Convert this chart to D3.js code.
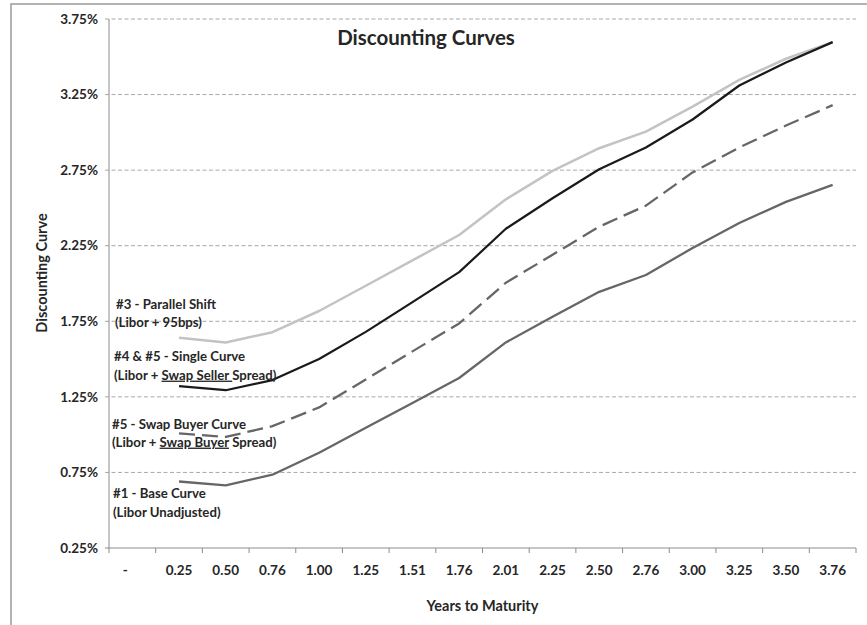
<!DOCTYPE html>
<html>
<head>
<meta charset="utf-8">
<script src="https://cdn.jsdelivr.net/npm/d3@7/dist/d3.min.js"></script>
<style>
  html, body { margin: 0; padding: 0; background: #fff; }
  svg { display: block; font-family: Lato, "Open Sans", sans-serif; }
</style>
</head>
<body>
<svg id="chart" width="867" height="625"></svg>
<script>
// ---- data ----
const categories = ["-", "0.25", "0.50", "0.76", "1.00", "1.25", "1.51", "1.76", "2.01", "2.25", "2.50", "2.76", "3.00", "3.25", "3.50", "3.76"];
const baseCurve     = [null, 0.690, 0.665, 0.735, 0.880, 1.045, 1.210, 1.375, 1.610, 1.780, 1.945, 2.056, 2.235, 2.400, 2.540, 2.652];
const swapBuyer     = [null, 1.008, 0.985, 1.056, 1.180, 1.365, 1.551, 1.736, 2.005, 2.190, 2.376, 2.515, 2.735, 2.900, 3.045, 3.180];
const singleCurve   = [null, 1.321, 1.294, 1.361, 1.500, 1.680, 1.877, 2.075, 2.362, 2.564, 2.756, 2.900, 3.085, 3.310, 3.462, 3.597];
const parallelShift = [null, 1.641, 1.610, 1.678, 1.818, 1.985, 2.153, 2.321, 2.557, 2.745, 2.895, 3.005, 3.170, 3.347, 3.487, 3.597];
const yTicks = [0.25, 0.75, 1.25, 1.75, 2.25, 2.75, 3.25, 3.75];
const titleText = "Discounting Curves";
const xTitle = "Years to Maturity";
const yTitle = "Discounting Curve";

const svg = d3.select("#chart");
const L = 109, R = 856, T = 19, B = 548;

const x = d3.scaleBand().domain(categories).range([L, R]).padding(0);
const y = d3.scaleLinear().domain([0.25, 3.75]).range([B, T]);
const cx = c => x(c) + x.bandwidth() / 2;

// outer border
svg.append("rect").attr("x", 11).attr("y", 4).attr("width", 870).attr("height", 640)
  .attr("fill", "none").attr("stroke", "#9a9a9a").attr("stroke-width", 1.5);

// gridlines (dashed)
svg.append("g").selectAll("line").data(yTicks.filter(v => v > 0.25)).join("line")
  .attr("x1", L - 4).attr("x2", R).attr("y1", d => y(d)).attr("y2", d => y(d))
  .attr("stroke", "#a8a8a8").attr("stroke-width", 1).attr("stroke-dasharray", "4,2.5");

// y axis line and labels
svg.append("line").attr("x1", L).attr("x2", L).attr("y1", T).attr("y2", B)
  .attr("stroke", "#8c8c8c").attr("stroke-width", 1);
svg.append("g").selectAll("text").data(yTicks).join("text")
  .attr("x", 98).attr("y", d => y(d)).attr("dy", "0.35em")
  .attr("text-anchor", "end").attr("font-size", 13.5).attr("font-weight", 700).attr("fill", "#262626")
  .text(d => d3.format(".2f")(d) + "%");

// x axis line, boundary ticks, labels
svg.append("line").attr("x1", L - 4).attr("x2", R).attr("y1", B).attr("y2", B)
  .attr("stroke", "#8c8c8c").attr("stroke-width", 1);
const bounds = categories.map(c => x(c)).concat([R]);
svg.append("g").selectAll("line").data(bounds).join("line")
  .attr("x1", d => d).attr("x2", d => d).attr("y1", B).attr("y2", B + 5)
  .attr("stroke", "#8c8c8c").attr("stroke-width", 1);
svg.append("g").selectAll("text").data(categories).join("text")
  .attr("x", (d, i) => cx(d) - (i === 0 ? 7 : 0)).attr("y", 570).attr("dy", "0.35em")
  .attr("text-anchor", "middle").attr("font-size", 13.5).attr("font-weight", 700).attr("fill", "#262626")
  .text(d => d);

// titles
svg.append("text").attr("x", 426).attr("y", 38).attr("dy", "0.35em").attr("text-anchor", "middle")
  .attr("font-size", 20.5).attr("font-weight", 700).attr("fill", "#262626").text(titleText);
svg.append("text").attr("x", (L + R) / 2).attr("y", 606).attr("dy", "0.35em").attr("text-anchor", "middle")
  .attr("font-size", 14.5).attr("font-weight", 700).attr("fill", "#262626").text(xTitle);
svg.append("text").attr("transform", "translate(42,273) rotate(-90)").attr("dy", "0.35em").attr("text-anchor", "middle")
  .attr("font-size", 14.5).attr("font-weight", 700).attr("fill", "#262626").text(yTitle);

// series
const line = d3.line().defined(d => d.v != null).x(d => cx(d.c)).y(d => y(d.v));
const toPts = arr => categories.map((c, i) => ({ c, v: arr[i] }));
const series = [
  { data: parallelShift, color: "#c3c3c3", width: 2.5, dash: null },
  { data: baseCurve, color: "#666666", width: 2.3, dash: null },
  { data: swapBuyer, color: "#666666", width: 2.3, dash: "16,7" },
  { data: singleCurve, color: "#1a1a1a", width: 2.2, dash: null }
];
series.forEach(s => {
  svg.append("path").datum(toPts(s.data)).attr("d", line)
    .attr("fill", "none").attr("stroke", s.color).attr("stroke-width", s.width)
    .attr("stroke-dasharray", s.dash).attr("stroke-linejoin", "round");
});

// annotations
const ann = svg.append("g").attr("font-size", 13.2).attr("font-weight", 700).attr("fill", "#262626");
function addLine(xp, yp, parts) {
  const t = ann.append("text").attr("x", xp).attr("y", yp).attr("dy", "0.35em");
  parts.forEach(p => {
    const ts = t.append("tspan").text(p.t);
    if (p.u) ts.attr("text-decoration", "underline");
  });
}
addLine(116, 304, [{ t: "#3 - Parallel Shift" }]);
addLine(115, 322, [{ t: "(Libor + 95bps)" }]);
addLine(114, 356, [{ t: "#4 & #5 - Single Curve" }]);
addLine(114, 375, [{ t: "(Libor + " }, { t: "Swap Seller ", u: true }, { t: "Spread)" }]);
addLine(112, 424, [{ t: "#5 - Swap Buyer Curve" }]);
addLine(112, 442, [{ t: "(Libor + " }, { t: "Swap Buyer", u: true }, { t: " Spread)" }]);
addLine(113, 493, [{ t: "#1 - Base Curve" }]);
addLine(113, 512, [{ t: "(Libor Unadjusted)" }]);
</script>
</body>
</html>
